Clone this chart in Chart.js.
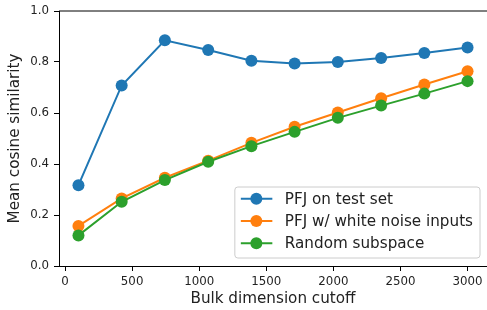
<!DOCTYPE html>
<html>
  <head>
    <title>Bulk dimension cutoff</title>
    <script src="https://cdn.jsdelivr.net/npm/chart.js@4/dist/chart.umd.min.js"></script>
    <style>
      html, body { margin: 0; padding: 0; background: #fff; }
      #wrap { width: 487px; height: 310px; }
    </style>
  </head>
  <body>
    <div id="wrap"><canvas id="canvas" width="487" height="310"></canvas></div>
    <script>
      // values
      const cutoffs = [100, 422, 744, 1067, 1389, 1711, 2033, 2356, 2678, 3000];
      const seriesNames = ['PFJ on test set', 'PFJ w/ white noise inputs', 'Random subspace'];
      const testSet = [0.317, 0.708, 0.885, 0.847, 0.805, 0.794, 0.800, 0.816, 0.835, 0.857];
      const whiteNoise = [0.157, 0.265, 0.346, 0.413, 0.483, 0.546, 0.602, 0.658, 0.712, 0.764];
      const randomSub = [0.120, 0.252, 0.337, 0.409, 0.470, 0.526, 0.581, 0.629, 0.676, 0.725];
      const xTicks = [0, 500, 1000, 1500, 2000, 2500, 3000];
      const yTicks = [0, 0.2, 0.4, 0.6, 0.8, 1.0];
      const colors = ['#1f77b4', '#ff7f0e', '#2ca02c'];

      const FONT = 'DejaVu Sans';

      function makeSet(i, values) {
        return {
          label: seriesNames[i],
          data: cutoffs.map((x, k) => ({x: x, y: values[k]})),
          borderColor: colors[i],
          backgroundColor: colors[i],
          borderWidth: 2,
          pointRadius: 6,
          pointHoverRadius: 6,
          pointBorderWidth: 0,
          tension: 0,
          order: 2 - i
        };
      }

      // matplotlib style legend in the lower right
      const boxLegend = {
        id: 'boxLegend',
        afterDraw(chart) {
          const ctx = chart.ctx;
          const area = chart.chartArea;
          ctx.save();
          ctx.font = '15.2px "' + FONT + '"';
          let textW = 0;
          chart.data.datasets.forEach(ds => { textW = Math.max(textW, ctx.measureText(ds.label).width); });
          const w = 50 + textW + 7;
          const h = 71;
          const right = area.right - 7;
          const bottom = area.bottom - 8;
          const left = right - w;
          const top = bottom - h;
          ctx.beginPath();
          ctx.roundRect(left, top, w, h, 3);
          ctx.fillStyle = 'rgba(255,255,255,0.8)';
          ctx.fill();
          ctx.strokeStyle = '#cccccc';
          ctx.lineWidth = 1;
          ctx.stroke();
          chart.data.datasets.forEach((ds, i) => {
            const y = top + 11.8 + i * 22.2;
            ctx.strokeStyle = ds.borderColor;
            ctx.lineWidth = 2;
            ctx.beginPath();
            ctx.moveTo(left + 6, y);
            ctx.lineTo(left + 37.5, y);
            ctx.stroke();
            ctx.fillStyle = ds.borderColor;
            ctx.beginPath();
            ctx.arc(left + 21.5, y, 6, 0, Math.PI * 2);
            ctx.fill();
            ctx.fillStyle = '#222';
            ctx.textBaseline = 'middle';
            ctx.fillText(ds.label, left + 50, y + 1);
          });
          ctx.restore();
        }
      };

      // top spine (right one falls off the canvas)
      const topSpine = {
        id: 'topSpine',
        afterDatasetsDraw(chart) {
          const ctx = chart.ctx;
          const area = chart.chartArea;
          ctx.save();
          ctx.strokeStyle = '#000';
          ctx.lineWidth = 1;
          ctx.beginPath();
          ctx.moveTo(area.left, area.top);
          ctx.lineTo(area.right, area.top);
          ctx.stroke();
          ctx.restore();
        }
      };

      const ctx = document.getElementById('canvas').getContext('2d');
      window.myChart = new Chart(ctx, {
        type: 'line',
        data: {
          datasets: [makeSet(0, testSet), makeSet(1, whiteNoise), makeSet(2, randomSub)]
        },
        options: {
          responsive: false,
          animation: false,
          layout: { autoPadding: false, padding: { top: 11, right: 0, bottom: 0, left: 0 } },
          plugins: {
            legend: { display: false },
            tooltip: { enabled: false }
          },
          scales: {
            x: {
              type: 'linear',
              min: -45,
              max: 3145,
              afterBuildTicks: scale => { scale.ticks = xTicks.map(v => ({value: v})); },
              afterFit: scale => {
                scale.height = 44;
                scale.paddingLeft = 0;
                scale.paddingRight = 0;
              },
              ticks: {
                color: '#222',
                font: { family: FONT, size: 11.8 },
                padding: 4,
                maxRotation: 0,
                callback: v => String(v)
              },
              grid: { drawOnChartArea: false, drawTicks: true, tickLength: 5, color: '#000', lineWidth: 1 },
              border: { color: '#000', width: 1 },
              title: {
                display: true,
                text: 'Bulk dimension cutoff',
                color: '#222',
                font: { family: FONT, size: 15.2 },
                padding: { top: 0, bottom: 2 }
              }
            },
            y: {
              min: 0,
              max: 1,
              afterBuildTicks: scale => { scale.ticks = yTicks.map(v => ({value: v})); },
              afterFit: scale => {
                scale.width = 59;
                scale.paddingTop = 0;
                scale.paddingBottom = 0;
              },
              ticks: {
                color: '#222',
                font: { family: FONT, size: 11.8 },
                padding: 5,
                callback: v => v.toFixed(1)
              },
              grid: { drawOnChartArea: false, drawTicks: true, tickLength: 5, color: '#000', lineWidth: 1 },
              border: { color: '#000', width: 1 },
              title: {
                display: true,
                text: 'Mean cosine similarity',
                color: '#222',
                font: { family: FONT, size: 15.2 },
                padding: { top: 6, bottom: 0 }
              }
            }
          }
        },
        plugins: [topSpine, boxLegend]
      });
    </script>
  </body>
</html>
